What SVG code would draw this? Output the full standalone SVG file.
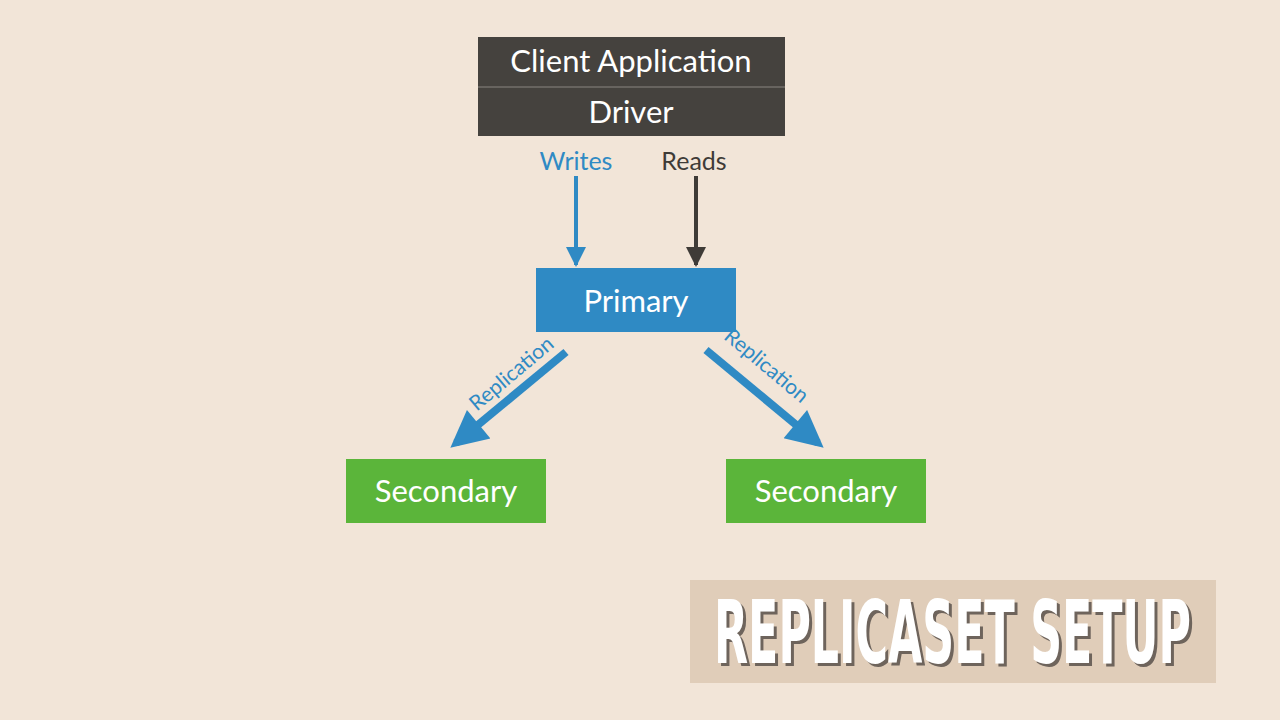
<svg xmlns="http://www.w3.org/2000/svg" width="1280" height="720" viewBox="0 0 1280 720">
<style>
.t{font-family:"Lato","Open Sans",sans-serif;fill:#fff;text-anchor:middle}
</style>
<defs>
<marker id="ab" viewBox="0 0 10 10" refX="8" refY="5" markerWidth="5" markerHeight="4.6" orient="auto"><path d="M0,0L10,5L0,10z" fill="#2f8ac4"/></marker>
<marker id="as" viewBox="0 0 10 10" refX="9" refY="5" markerWidth="5" markerHeight="5" orient="auto"><path d="M0,0L10,5L0,10z" fill="#2f8ac4"/></marker>
<marker id="ad" viewBox="0 0 10 10" refX="9" refY="5" markerWidth="5" markerHeight="5" orient="auto"><path d="M0,0L10,5L0,10z" fill="#3f3b37"/></marker>
</defs>
<rect width="1280" height="720" fill="#f2e5d8"/>
<g id="client"><rect x="478" y="37" width="307" height="99" fill="#45423e"/><line x1="478" y1="87" x2="785" y2="87" stroke="#8a8580" stroke-width="1"/>
<text class="t" x="631" y="72" font-size="31">Client Application</text>
<text class="t" x="631" y="123" font-size="31">Driver</text></g>
<g id="primary"><rect x="536" y="268" width="200" height="64" fill="#2f8ac4"/><text class="t" x="636" y="312" font-size="31">Primary</text></g>
<g id="secondary1"><rect x="346" y="459" width="200" height="64" fill="#5bb53a"/><text class="t" x="446" y="502" font-size="31">Secondary</text></g>
<g id="secondary2"><rect x="726" y="459" width="200" height="64" fill="#5bb53a"/><text class="t" x="826" y="502" font-size="31">Secondary</text></g>
<g id="connectors">
<line x1="576" y1="176" x2="576" y2="265" stroke="#2f8ac4" stroke-width="4" marker-end="url(#as)"/>
<line x1="696" y1="176" x2="696" y2="265" stroke="#3f3b37" stroke-width="4" marker-end="url(#ad)"/>
<line x1="566" y1="352" x2="456" y2="443" stroke="#2f8ac4" stroke-width="8" marker-end="url(#ab)"/>
<line x1="706" y1="350" x2="818" y2="443" stroke="#2f8ac4" stroke-width="8" marker-end="url(#ab)"/>
<text x="576" y="170" font-size="25" font-family="Lato,sans-serif" fill="#2f8ac4" text-anchor="middle">Writes</text>
<text x="694" y="170" font-size="25" font-family="Lato,sans-serif" fill="#3f3b37" text-anchor="middle">Reads</text>
<text transform="translate(516,379) rotate(-40)" font-size="21" font-family="Lato,sans-serif" fill="#2f8ac4" text-anchor="middle">Replication</text>
<text transform="translate(762,371) rotate(40)" font-size="21" font-family="Lato,sans-serif" fill="#2f8ac4" text-anchor="middle">Replication</text>
</g>
<g id="title"><rect x="690" y="580" width="526" height="103" fill="#e0cdb9"/>
<text x="717" y="666" font-size="88" font-weight="bold" font-family="'Liberation Sans Narrow','DejaVu Sans Condensed',sans-serif" fill="#6e645c" textLength="477" lengthAdjust="spacingAndGlyphs">REPLICASET SETUP</text>
<text x="714" y="663" font-size="88" font-weight="bold" font-family="'Liberation Sans Narrow','DejaVu Sans Condensed',sans-serif" fill="#fff" textLength="477" lengthAdjust="spacingAndGlyphs">REPLICASET SETUP</text></g>
</svg>
